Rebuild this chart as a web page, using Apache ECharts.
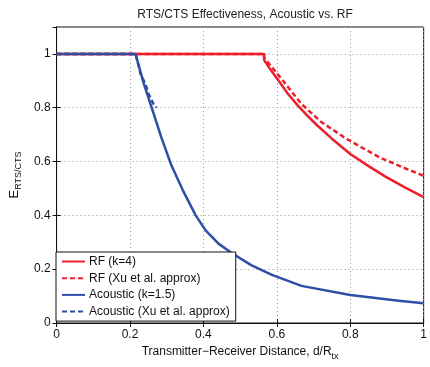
<!DOCTYPE html>
<html><head><meta charset="utf-8">
<script src="https://cdn.jsdelivr.net/npm/echarts@6/dist/echarts.min.js"></script>
<style>html,body{margin:0;padding:0;background:#fff}#c{width:430px;height:367px}</style>
</head><body><div id="c"></div>
<script>
var xTicks = [0, 0.2, 0.4, 0.6, 0.8, 1];
var yTicks = [0, 0.2, 0.4, 0.6, 0.8, 1];
var seriesNames = ['RF (k=4)', 'RF (Xu et al. approx)', 'Acoustic (k=1.5)', 'Acoustic (Xu et al. approx)'];
var rfX = [0, 0.565, 0.5655, 0.585, 0.605, 0.63, 0.658, 0.685, 0.711, 0.75, 0.8, 0.85, 0.897, 0.95, 1.0];
var rfY = [1, 1, 0.977, 0.937, 0.9, 0.852, 0.807, 0.768, 0.733, 0.685, 0.628, 0.583, 0.543, 0.503, 0.468];
var rfXuX = [0, 0.565, 0.5655, 0.587, 0.62, 0.667, 0.72, 0.79, 0.879, 0.94, 1.0];
var rfXuY = [1, 1, 0.986, 0.95, 0.895, 0.814, 0.748, 0.684, 0.616, 0.58, 0.547];
var acX = [0, 0.215, 0.238, 0.26, 0.286, 0.313, 0.344, 0.379, 0.406, 0.441, 0.477, 0.53, 0.585, 0.667, 0.8, 0.932, 1.0];
var acY = [1, 1, 0.888, 0.797, 0.687, 0.585, 0.493, 0.4, 0.344, 0.295, 0.26, 0.215, 0.18, 0.138, 0.104, 0.083, 0.073];
var acXuX = [0, 0.215, 0.229, 0.242, 0.251, 0.264, 0.272];
var acXuY = [1, 1, 0.925, 0.888, 0.85, 0.814, 0.8];

function pairs(xs, ys) { return xs.map(function (x, i) { return [x, ys[i]]; }); }
var RED = '#ee1f2b', BLUE = '#2f4ea6';
var font = 'Liberation Sans, Arial, sans-serif';

var chart = echarts.init(document.getElementById('c'));
function mkSeries(name, data, color, dashed) {
  return {
    name: name, type: 'line', data: data, showSymbol: false, symbol: 'none',
    xAxisIndex: 0, yAxisIndex: 0,
    lineStyle: { color: color, width: 2.5, type: dashed ? [5, 3] : 'solid', join: 'round' },
    itemStyle: { color: color }, animation: false, z: dashed ? 3 : 2
  };
}
var tickLabel = { color: '#111', fontSize: 12, fontFamily: font };
chart.setOption({
  animation: false,
  title: { text: 'RTS/CTS Effectiveness, Acoustic vs. RF', left: 240, top: 4, textAlign: 'center',
    textStyle: { fontSize: 12, fontWeight: 'normal', color: '#222', fontFamily: font } },
  grid: { left: 52, right: 2, top: 27, bottom: 44, show: true, borderColor: '#111', borderWidth: 1, backgroundColor: 'transparent' },
  legend: {
    data: seriesNames, orient: 'vertical', left: 56, top: 252,
    itemWidth: 23, itemHeight: 12, itemGap: 4.7, padding: [3.5, 6, 3.5, 5],
    borderColor: '#111', borderWidth: 1, backgroundColor: '#fff',
    itemStyle: { opacity: 0 },
    textStyle: { fontSize: 12, color: '#111', fontFamily: font, padding: [0, 0, 0, -1] }
  },
  xAxis: [{
    type: 'value', min: 0, max: 1, interval: 0.2,
    name: 'Transmitter\u2212Receiver Distance, d/R{s|tx}', nameLocation: 'middle', nameGap: 19,
    nameTextStyle: { fontSize: 12, color: '#111', fontFamily: font, rich: { s: { fontSize: 9, padding: [10, 0, 0, 0], fontFamily: font, color: '#111' } } },
    axisLine: { show: true, lineStyle: { color: '#111' } },
    axisTick: { inside: true, length: 4, lineStyle: { color: '#111' } },
    axisLabel: Object.assign({ margin: 6, formatter: function (v) { return xTicks.indexOf(Math.round(v * 10) / 10) >= 0 ? String(Math.round(v * 10) / 10) : ''; } }, tickLabel),
    splitLine: { show: true, lineStyle: { color: '#999', type: [1, 3], width: 1 } }
  }, {
    type: 'value', min: 0, max: 1, interval: 0.2, position: 'top',
    axisLine: { show: true, lineStyle: { color: '#111' } },
    axisTick: { inside: true, length: 4, lineStyle: { color: '#111' } },
    axisLabel: { show: false }, splitLine: { show: false }
  }],
  yAxis: [{
    type: 'value', min: 0, max: 1.1, interval: 0.2,
    name: 'E{s|RTS/CTS}', nameLocation: 'middle', nameGap: 32, nameRotate: 90,
    nameTextStyle: { fontSize: 13, color: '#111', fontFamily: font, rich: { s: { fontSize: 9, padding: [8, 0, 0, 0], fontFamily: font, color: '#111' } } },
    axisLine: { show: true, lineStyle: { color: '#111' } },
    axisTick: { inside: true, length: 4, lineStyle: { color: '#111' } },
    axisLabel: Object.assign({ margin: 6, showMaxLabel: false, formatter: function (v) { var r = Math.round(v * 10) / 10; return yTicks.indexOf(r) >= 0 ? String(r) : ''; } }, tickLabel),
    splitLine: { show: true, lineStyle: { color: '#999', type: [1, 3], width: 1 } }
  }, {
    type: 'value', min: 0, max: 1.1, interval: 0.2, position: 'right',
    axisLine: { show: true, lineStyle: { color: '#111' } },
    axisTick: { inside: true, length: 4, lineStyle: { color: '#111' } },
    axisLabel: { show: false }, splitLine: { show: false }
  }],
  series: [
    mkSeries(seriesNames[0], pairs(rfX, rfY), RED, false),
    mkSeries(seriesNames[1], pairs(rfXuX, rfXuY), RED, true),
    mkSeries(seriesNames[2], pairs(acX, acY), BLUE, false),
    mkSeries(seriesNames[3], pairs(acXuX, acXuY), BLUE, true)
  ]
});
</script></body></html>
